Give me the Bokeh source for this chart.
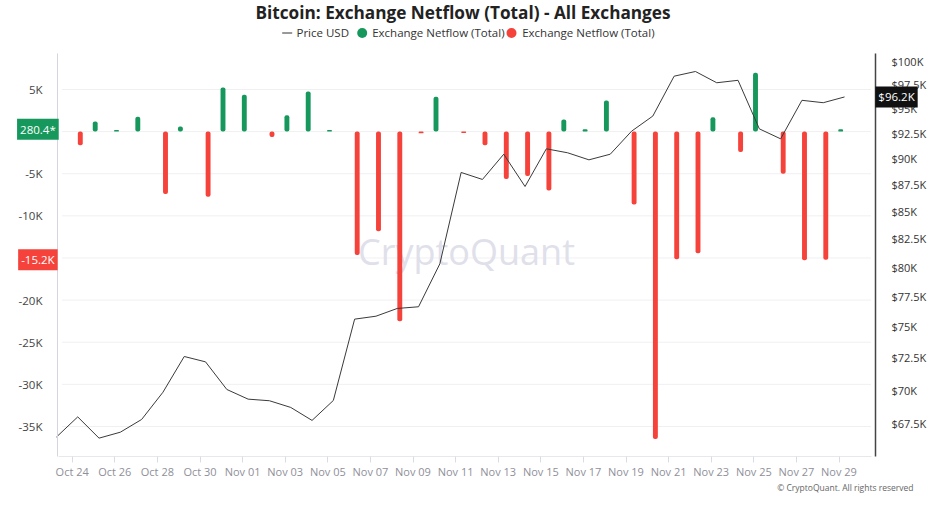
import math
from bokeh.plotting import figure
from bokeh.models import Range1d, LogScale, LogAxis, FixedTicker, Label
from bokeh.embed import file_html
from bokeh.resources import INLINE

# ---------------- data ----------------
price_dates = ["Oct 23", "Oct 24", "Oct 25", "Oct 26", "Oct 27", "Oct 28", "Oct 29", "Oct 30",
               "Oct 31", "Nov 01", "Nov 02", "Nov 03", "Nov 04", "Nov 05", "Nov 06", "Nov 07",
               "Nov 08", "Nov 09", "Nov 10", "Nov 11", "Nov 12", "Nov 13", "Nov 14", "Nov 15",
               "Nov 16", "Nov 17", "Nov 18", "Nov 19", "Nov 20", "Nov 21", "Nov 22", "Nov 23",
               "Nov 24", "Nov 25", "Nov 26", "Nov 27", "Nov 28", "Nov 29"]
price_usd = [66540, 68010, 66460, 66890, 67820, 69850, 72610, 72190,
             70060, 69330, 69210, 68710, 67750, 69230, 75610, 75850,
             76490, 76630, 80280, 88640, 87970, 90410, 87300, 90940,
             90550, 89860, 90410, 92690, 94230, 98390, 98890, 97690,
             97950, 92930, 91930, 95850, 95600, 96200]

flow_dates = price_dates[1:]
netflow_btc = [-1630, 1190, 200, 1750, -7420, 600, -7740, 5240,
               4370, -630, 1940, 4760, 200, -14640, -11830, -22500,
               -200, 4130, -160, -1630, -5630, -5280, -6980, 1430,
               280, 3690, -8650, -36500, -15160, -14440, 1710, -2420,
               6980, -5000, -15280, -15200, 280.4]

x_tick_labels = ["Oct 24", "Oct 26", "Oct 28", "Oct 30", "Nov 01", "Nov 03", "Nov 05",
                 "Nov 07", "Nov 09", "Nov 11", "Nov 13", "Nov 15", "Nov 17", "Nov 19",
                 "Nov 21", "Nov 23", "Nov 25", "Nov 27", "Nov 29"]
left_ticks = [5000, 0, -5000, -10000, -15000, -20000, -25000, -30000, -35000]
left_tick_labels = ["5K", "0", "-5K", "-10K", "-15K", "-20K", "-25K", "-30K", "-35K"]
right_ticks = [67500, 70000, 72500, 75000, 77500, 80000, 82500, 85000, 87500,
               90000, 92500, 95000, 97500, 100000]
right_tick_labels = ["$67.5K", "$70K", "$72.5K", "$75K", "$77.5K", "$80K", "$82.5K", "$85K",
                     "$87.5K", "$90K", "$92.5K", "$95K", "$97.5K", "$100K"]
last_green_text = "280.4*"
last_red_text = "-15.2K"
last_price_text = "$96.2K"

title_text = "Bitcoin: Exchange Netflow (Total) - All Exchanges"
legend_texts = ["Price USD", "Exchange Netflow (Total)", "Exchange Netflow (Total)"]
watermark_text = "CryptoQuant"
credit_text = "\u00a9 CryptoQuant. All rights reserved"

# ---------------- layout / styling ----------------
W, H = 937, 517
X0_PX, DAY_PX = 71.7, 21.3          # pixel of first x tick, pixels per day
ZERO_PX, K_PX = 131.1, 8.425        # pixel of netflow 0, pixels per 1000 BTC
P100_PX, LN_PX = 60.7, 922.6        # pixel of $100K, pixels per ln unit of price
PLOT_L, PLOT_R, PLOT_T, PLOT_B = 61.5, 870.5, 52.7, 456
LEFT_AXIS_PX, RIGHT_AXIS_PX = 57, 875

GREEN = "#16985c"
RED = "#f5423a"
FONT = "Open Sans"
TIME_OFFSET = 0.26
GREEN_SHIFT = -0.18
RED_SHIFT = 0.12
BAR_W = 0.23


def dx(cx):
    return (cx - X0_PX) / DAY_PX


def ly(cy):
    return (ZERO_PX - cy) / K_PX * 1000.0


def py(cy):
    return 100000.0 * math.exp(-(cy - P100_PX) / LN_PX)


def sy(cy):
    return H - cy


p = figure(width=W, height=H, output_backend="svg", toolbar_location=None,
           x_range=Range1d(dx(0), dx(W)), y_range=Range1d(ly(H), ly(0)),
           min_border=0)
try:
    p.title = None
except Exception:
    p.title.visible = False
p.outline_line_color = None
p.background_fill_color = "white"
p.border_fill_color = "white"

p.extra_y_ranges = {"price": Range1d(py(H), py(0))}
p.extra_y_scales = {"price": LogScale()}

day_of = {d: i for i, d in enumerate(flow_dates)}
px = [i - 1 + TIME_OFFSET for i in range(len(price_dates))]
fx = [i + TIME_OFFSET for i in range(len(flow_dates))]

# watermark
p.add_layout(Label(x=466, y=sy(251), x_units="screen", y_units="screen", text=watermark_text,
                   text_align="center", text_baseline="middle", text_font=FONT,
                   text_font_size="36px", text_color="#dfe0ea", level="underlay"))

# gridlines over the plot area
p.segment(x0=dx(PLOT_L), x1=dx(PLOT_R), y0=left_ticks, y1=left_ticks,
          line_color="#f0f0f3", line_width=1, level="underlay")

gx = [x + GREEN_SHIFT for x, v in zip(fx, netflow_btc) if v >= 0]
gv = [v for v in netflow_btc if v >= 0]
rx = [x + RED_SHIFT for x, v in zip(fx, netflow_btc) if v < 0]
rv = [v for v in netflow_btc if v < 0]

p.vbar(x=gx, top=gv, bottom=0, width=BAR_W, fill_color=GREEN, line_color=None, border_radius=2)
p.vbar(x=rx, top=0, bottom=rv, width=BAR_W, fill_color=RED, line_color=None, border_radius=2)
p.line(x=px, y=price_usd, y_range_name="price", line_color="#3a3a3a", line_width=1)

# axes
xa = p.xaxis[0]
xa.fixed_location = ly(PLOT_B)
xa.bounds = (dx(58), dx(PLOT_R))
xa.ticker = FixedTicker(ticks=[day_of[t] for t in x_tick_labels])
xa.major_label_overrides = {day_of[t]: t for t in x_tick_labels}
xa.axis_line_color = "#e6e8ee"
xa.major_tick_line_color = "#d8dce6"
xa.major_tick_out = 6
xa.major_tick_in = 0
xa.minor_tick_line_color = None
xa.major_label_text_font = FONT
xa.major_label_text_font_size = "11px"
xa.major_label_text_color = "#8f8f99"
xa.major_label_standoff = 1

ya = p.yaxis[0]
ya.fixed_location = dx(LEFT_AXIS_PX)
ya.bounds = (ly(PLOT_B), ly(PLOT_T))
ya.ticker = FixedTicker(ticks=left_ticks)
ya.major_label_overrides = dict(zip(left_ticks, left_tick_labels))
ya.axis_line_color = "#d3d6e2"
ya.major_tick_line_color = None
ya.minor_tick_line_color = None
ya.major_label_text_font = FONT
ya.major_label_text_font_size = "11.5px"
ya.major_label_text_color = "#444444"
ya.major_label_standoff = 9

ra = LogAxis(y_range_name="price", ticker=FixedTicker(ticks=right_ticks))
ra.fixed_location = dx(RIGHT_AXIS_PX)
ra.bounds = (py(PLOT_B), py(PLOT_T))
ra.major_label_overrides = dict(zip(right_ticks, right_tick_labels))
ra.axis_line_color = "#444444"
ra.axis_line_width = 1.5
ra.major_tick_line_color = None
ra.minor_tick_line_color = None
ra.major_label_text_font = FONT
ra.major_label_text_font_size = "11px"
ra.major_label_text_color = "#333333"
ra.major_label_standoff = 10
p.add_layout(ra, "right")

p.xgrid.visible = False
p.ygrid.visible = False

# last-value tags
p.add_layout(Label(x=37.4, y=netflow_btc[-1], x_units="screen", text=last_green_text,
                   text_align="center", text_baseline="middle", text_font=FONT,
                   text_font_size="11.5px", text_color="white", background_fill_color=GREEN,
                   padding=3))
p.add_layout(Label(x=37.4, y=rv[-1], x_units="screen",
                   text=last_red_text, text_align="center", text_baseline="middle",
                   text_font=FONT, text_font_size="11.5px", text_color="white",
                   background_fill_color=RED, padding=3))
p.add_layout(Label(x=896, y=price_usd[-1], x_units="screen", y_range_name="price",
                   text=last_price_text, text_align="center", text_baseline="middle",
                   text_font=FONT, text_font_size="11.5px", text_color="white",
                   background_fill_color="#111111", padding=3))

# title (kept fully inside the canvas)
p.add_layout(Label(x=462.5, y=sy(11.5), x_units="screen", y_units="screen", text=title_text,
                   text_align="center", text_baseline="alphabetic", text_font=FONT,
                   text_font_size="17.2px", text_font_style="bold", text_color="#222222"))

# legend: swatches + texts
LEG_Y = 32.5
p.line(x=[dx(281.7), dx(291.7)], y=[ly(LEG_Y), ly(LEG_Y)], line_color="#333333", line_width=1)
p.scatter(x=[dx(361.7)], y=[ly(LEG_Y)], size=10, marker="circle", fill_color=GREEN,
          line_color=None)
p.scatter(x=[dx(511)], y=[ly(LEG_Y)], size=10, marker="circle", fill_color=RED,
          line_color=None)
for tx, t in zip([296, 371.7, 521.7], legend_texts):
    p.add_layout(Label(x=tx, y=sy(32.2), x_units="screen", y_units="screen", text=t,
                       text_align="left", text_baseline="alphabetic", text_font=FONT,
                       text_font_size="11.5px", text_color="#333333"))

p.add_layout(Label(x=913, y=sy(486.6), x_units="screen", y_units="screen",
                   text=credit_text, text_align="right",
                   text_baseline="alphabetic", text_font=FONT, text_font_size="8.5px",
                   text_color="#666666"))

open("out.html", "w").write(file_html(p, INLINE))
